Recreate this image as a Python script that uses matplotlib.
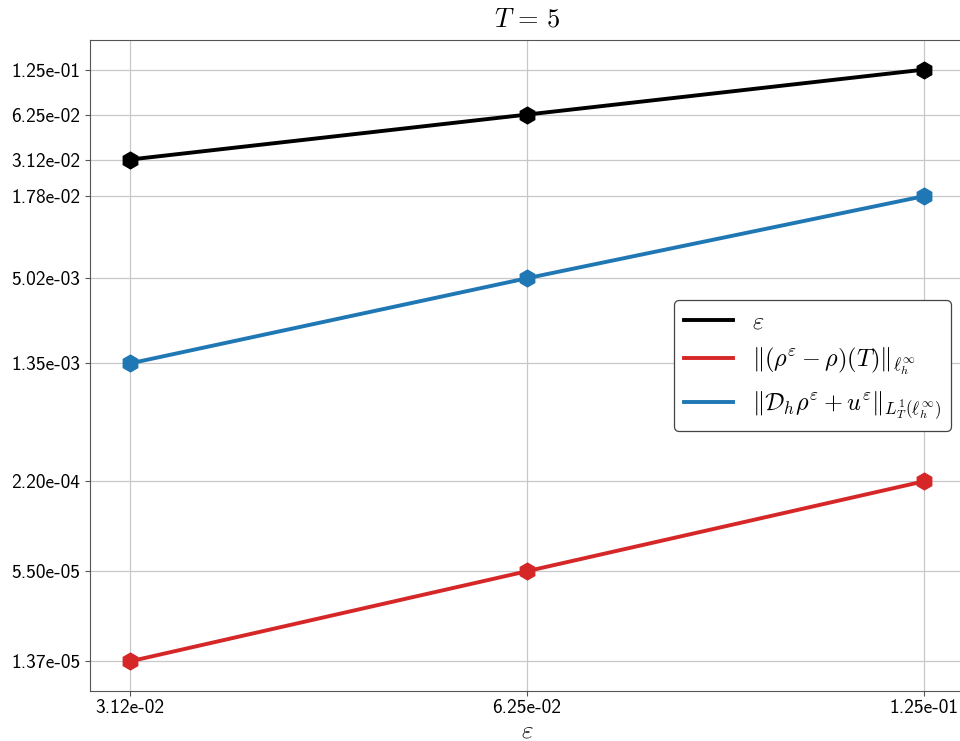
import matplotlib
matplotlib.use("Agg")
import matplotlib.pyplot as plt
from matplotlib.ticker import FixedLocator, FixedFormatter, NullLocator

plt.rcParams['mathtext.fontset'] = 'cm'

eps = [3.125e-02, 6.25e-02, 1.25e-01]
err_eps = [3.125e-02, 6.25e-02, 1.25e-01]
err_rho = [1.37e-05, 5.50e-05, 2.20e-04]
err_flux = [1.35e-03, 5.02e-03, 1.78e-02]

series = [
    (err_eps, 'black', r'$\varepsilon$'),
    (err_rho, '#d62728', r'$\|(\rho^\varepsilon-\rho)(T)\|_{\ell^\infty_h}$'),
    (err_flux, '#1f77b4', r'$\|\mathcal{D}_h\rho^\varepsilon+u^\varepsilon\|_{L^1_T(\ell^\infty_h)}$'),
]

xticks = eps
xticklabels = ['3.12e-02', '6.25e-02', '1.25e-01']
yticks = [1.25e-01, 6.25e-02, 3.125e-02, 1.78e-02, 5.02e-03, 1.35e-03, 2.20e-04, 5.50e-05, 1.37e-05]
yticklabels = ['1.25e-01', '6.25e-02', '3.12e-02', '1.78e-02', '5.02e-03', '1.35e-03', '2.20e-04', '5.50e-05', '1.37e-05']

fig = plt.figure(figsize=(9.6, 7.41), dpi=100)
ax = fig.add_axes([90/960, 50/741, 874/960, 651/741])

for vals, col, lab in series:
    ax.plot(eps, vals, color=col, lw=2.8, label=lab, zorder=3)
    ax.plot(eps, vals, color=col, lw=0, marker='h', markersize=12, zorder=4)

ax.set_xscale('log')
ax.set_yscale('log')
ax.xaxis.set_major_locator(FixedLocator(xticks))
ax.xaxis.set_major_formatter(FixedFormatter(xticklabels))
ax.xaxis.set_minor_locator(NullLocator())
ax.yaxis.set_major_locator(FixedLocator(yticks))
ax.yaxis.set_major_formatter(FixedFormatter(yticklabels))
ax.yaxis.set_minor_locator(NullLocator())

for lab in ax.get_xticklabels() + ax.get_yticklabels():
    lab.set_fontfamily('cmss10')
    lab.set_fontsize(14)

ax.grid(True, color='#c8c8c8', lw=0.9)
ax.set_axisbelow(True)
for s in ax.spines.values():
    s.set_color('#555555')
ax.tick_params(color='#555555')
ax.tick_params(axis='x', pad=2.0)

ax.set_xlabel(r'$\varepsilon$', fontsize=18)
ax.xaxis.label.set_va('baseline')
ax.xaxis.set_label_coords(0.5, -(737 - 691) / 651)
ax.set_title(r'$T\,=\,5$', fontsize=19, pad=10)

leg = ax.legend(loc='center right', bbox_to_anchor=(0.985, 0.5), borderaxespad=0,
                fontsize=17.5, framealpha=1, edgecolor='#444444', handlelength=2.0)
leg.get_frame().set_linewidth(0.9)

fig.savefig('out.png', dpi=100)
